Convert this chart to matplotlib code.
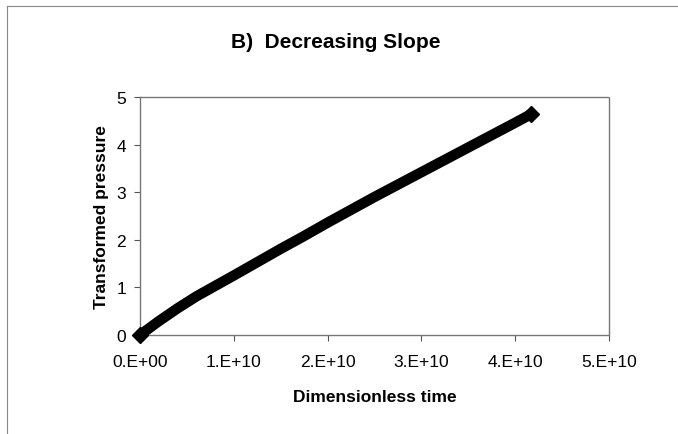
import matplotlib
matplotlib.use("Agg")
import matplotlib.pyplot as plt
from matplotlib.lines import Line2D

plt.rcParams['font.family'] = ['Liberation Sans', 'DejaVu Sans']

# dimensionless time and transformed pressure
timeVals = [0.0, 0.2e10, 0.4e10, 0.6e10, 0.8e10, 1.0e10, 1.25e10, 1.5e10, 1.75e10,
            2.0e10, 2.25e10, 2.5e10, 2.75e10, 3.0e10, 3.25e10, 3.5e10, 3.75e10,
            4.0e10, 4.17e10]
pressureVals = [0.0, 0.29, 0.56, 0.81, 1.03, 1.25, 1.53, 1.81, 2.08,
                2.36, 2.63, 2.90, 3.16, 3.42, 3.68, 3.94, 4.20,
                4.46, 4.64]

xTicks = [0, 1e10, 2e10, 3e10, 4e10, 5e10]
xTickLabels = ["0.E+00", "1.E+10", "2.E+10", "3.E+10", "4.E+10", "5.E+10"]
yTicks = [0, 1, 2, 3, 4, 5]

fig = plt.figure(figsize=(6.78, 4.35), dpi=100)
ax = fig.add_axes([140/678, 99/435, 469/678, 238/435])

# thick band of points, diamonds only show at the two ends
ax.plot(timeVals, pressureVals, color='black', lw=7.5, solid_capstyle='round',
        marker='D', markersize=8, markevery=[0, len(timeVals) - 1],
        zorder=3, clip_on=False)

ax.set_xlim(0, 5e10)
ax.set_ylim(0, 5)
ax.set_xticks(xTicks)
ax.set_xticklabels(xTickLabels)
ax.set_yticks(yTicks)
ax.tick_params(axis='both', direction='out', length=4, width=0.8, color='#555555',
               labelsize=12.5)
ax.tick_params(axis='x', pad=10)
ax.tick_params(axis='y', pad=6)

# excel-like plot area border: dotted top/right/bottom, solid gray left
for side in ['top', 'right', 'bottom']:
    ax.spines[side].set_linestyle((0, (1, 1)))
    ax.spines[side].set_color('#777777')
    ax.spines[side].set_linewidth(1.0)
ax.spines['left'].set_color('#777777')
ax.spines['left'].set_linewidth(1.0)

ax.set_xlabel("Dimensionless time", fontsize=12.5, fontweight='bold', labelpad=14)
ax.set_ylabel("Transformed pressure", fontsize=12.5, fontweight='bold', labelpad=5)

fig.text(0.495, 1 - 43/435, "B)  Decreasing Slope", ha='center', va='center',
         fontsize=15, fontweight='bold')

# outer chart frame (only top and left edges are visible)
fig.add_artist(Line2D([7/678, 1], [1 - 7/435, 1 - 7/435], color='#888888', lw=0.8))
fig.add_artist(Line2D([7/678, 7/678], [0, 1 - 7/435], color='#888888', lw=0.8))

fig.savefig("out.png", dpi=100)
